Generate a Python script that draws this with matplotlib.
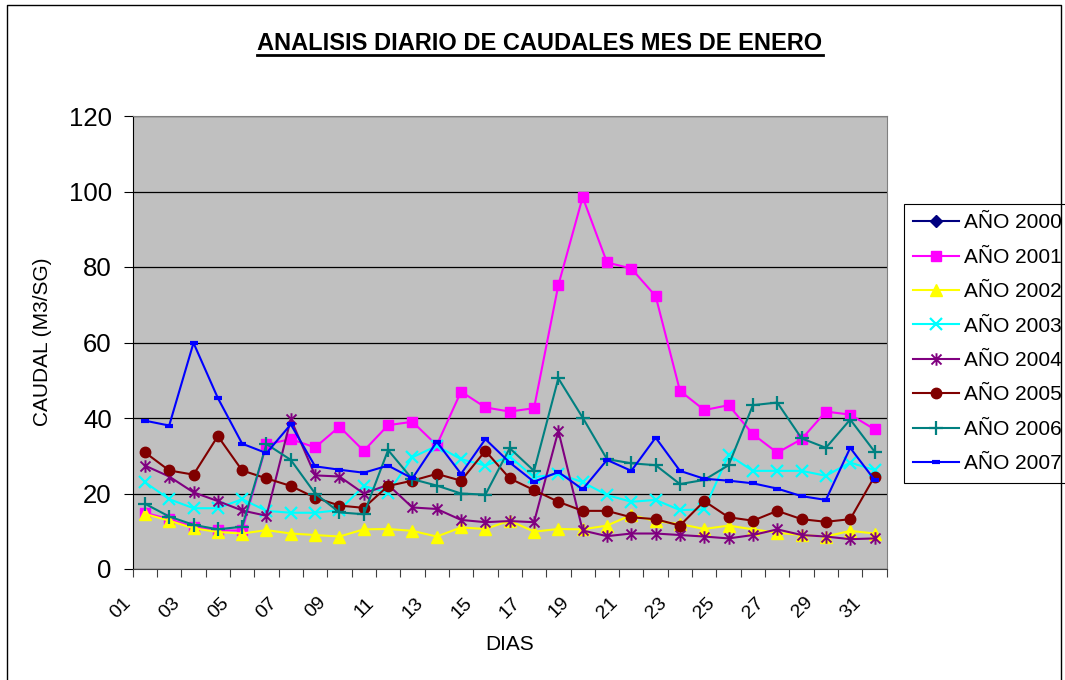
import matplotlib
matplotlib.use('Agg')
import numpy as np
import matplotlib.pyplot as plt
from matplotlib.path import Path
from matplotlib.lines import Line2D

# fuente tipo Arial
plt.rcParams['font.family'] = ['Liberation Sans', 'DejaVu Sans']

# datos (caudal m3/sg por dia de enero)
dias = list(range(1, 32))
etiquetas = ['01', '03', '05', '07', '09', '11', '13', '15', '17', '19', '21',
             '23', '25', '27', '29', '31']

anio_2000 = []
anio_2001 = [14.9, 13.2, 11.2, 10.2, 10.2, 33.0, 34.4, 32.2, 37.7, 31.3, 38.1,
             39.0, 32.8, 47.0, 42.8, 41.7, 42.6, 75.2, 98.5, 81.2, 79.6, 72.3,
             47.2, 42.1, 43.4, 35.7, 30.8, 34.4, 41.7, 40.9, 37.0]
anio_2002 = [14.6, 12.8, 10.8, 9.8, 9.4, 10.3, 9.4, 9.0, 8.6, 10.5, 10.6,
             10.1, 8.6, 11.0, 10.6, 12.8, 9.9, 10.6, 10.5, 11.5, 14.3, 12.7,
             11.9, 10.6, 11.5, 10.5, 9.6, 9.0, 8.6, 10.1, 9.4]
anio_2003 = [23.0, 18.5, 16.1, 16.1, 18.5, 15.4, 14.9, 14.9, 15.6, 22.0, 20.2,
             29.6, 32.6, 29.1, 27.4, 29.8, 24.3, 25.2, 23.0, 19.6, 17.8, 18.3,
             15.6, 15.8, 30.2, 26.0, 26.0, 26.0, 24.7, 28.2, 26.2]
anio_2004 = [27.4, 24.5, 20.3, 18.0, 15.5, 14.1, 39.7, 24.8, 24.5, 20.0, 22.3,
             16.3, 15.9, 13.0, 12.4, 12.7, 12.4, 36.6, 10.2, 8.7, 9.4, 9.4,
             9.0, 8.6, 8.1, 9.0, 10.5, 9.0, 8.6, 7.9, 8.1]
anio_2005 = [30.9, 26.1, 25.0, 35.2, 26.1, 24.0, 22.0, 18.9, 16.8, 16.2, 22.0,
             23.4, 25.2, 23.4, 31.3, 24.0, 20.9, 17.8, 15.4, 15.4, 13.7, 13.2,
             11.5, 18.0, 13.7, 12.8, 15.4, 13.2, 12.5, 13.2, 24.5]
anio_2006 = [17.3, 13.9, 11.7, 10.5, 11.2, 33.1, 28.9, 20.0, 15.0, 14.5, 31.5,
             23.8, 22.1, 20.0, 19.7, 32.0, 26.0, 50.5, 40.1, 29.1, 28.0, 27.5,
             22.5, 23.6, 27.5, 43.4, 44.1, 34.6, 32.1, 39.6, 31.1]
anio_2007 = [39.3, 38.0, 59.9, 45.3, 33.2, 30.7, 38.3, 27.2, 26.3, 25.5, 27.4,
             24.0, 33.7, 25.2, 34.4, 28.2, 23.1, 25.7, 21.1, 28.9, 26.0, 34.8,
             26.0, 23.9, 23.4, 22.7, 21.3, 19.3, 18.3, 32.1, 23.6]

# marcador asterisco estilo excel (x + linea vertical)
asterisco = Path([(0, -1), (0, 1), (-0.8, -0.8), (0.8, 0.8), (-0.8, 0.8), (0.8, -0.8)],
                 [Path.MOVETO, Path.LINETO] * 3)

series = [
    ('AÑO 2000', anio_2000, '#000080', 'D', 6, 1.0),
    ('AÑO 2001', anio_2001, '#FF00FF', 's', 7.5, 1.0),
    ('AÑO 2002', anio_2002, '#FFFF00', '^', 8.5, 1.0),
    ('AÑO 2003', anio_2003, '#00FFFF', 'x', 8, 1.6),
    ('AÑO 2004', anio_2004, '#800080', asterisco, 9, 1.4),
    ('AÑO 2005', anio_2005, '#800000', 'o', 7.5, 1.0),
    ('AÑO 2006', anio_2006, '#008080', '+', 10, 1.6),
    ('AÑO 2007', anio_2007, '#0000FF', '_', 6, 3.0),
]

fig = plt.figure(figsize=(10.65, 6.8), dpi=100)
ax = fig.add_axes([132.7 / 1065, 1 - 569 / 680, 754 / 1065, 453 / 680])
ax.set_facecolor('#C0C0C0')

for nombre, valores, color, marca, tam, mew in series:
    x = dias[:len(valores)]
    if marca in ('x', '+', '_') or marca is asterisco:
        ax.plot(x, valores, color=color, lw=1.5, marker=marca, ms=tam,
                mew=mew, mec=color, mfc='none', label=nombre)
    else:
        ax.plot(x, valores, color=color, lw=1.5, marker=marca, ms=tam,
                mew=mew, mec=color, mfc=color, label=nombre)

ax.set_ylim(0, 120)
ax.set_xlim(0.5, 31.5)
ax.set_yticks(range(0, 121, 20))
ax.yaxis.grid(True, color='black', lw=0.9)
ax.set_axisbelow(True)

# marcas entre categorias, etiquetas en el centro
ax.set_xticks(np.arange(0.5, 32, 1))
ax.set_xticklabels([])
ax.set_xticks([d - 0.41 for d in dias[::2]], minor=True)
ax.set_xticklabels(etiquetas, minor=True, rotation=45, ha='right', va='top',
                   fontsize=14)
ax.tick_params(axis='x', which='major', length=6, width=0.8, color='#404040',
               direction='out')
ax.tick_params(axis='x', which='minor', length=0, pad=18)
ax.tick_params(axis='y', labelsize=18.5, length=6.5, width=0.8, direction='out', pad=8.5)

for lado in ['top', 'right']:
    ax.spines[lado].set_color('#808080')
ax.spines['bottom'].set_color('#404040')
ax.spines['left'].set_color('black')

fig.text(43 / 1065, 1 - 342 / 680, 'CAUDAL (M3/SG)', rotation=90, ha='center',
         va='center', fontsize=15)
fig.text(509.7 / 1065, 1 - 644 / 680, 'DIAS', ha='center', va='center', fontsize=15)

titulo = fig.text(540 / 1065, 1 - 50.5 / 680, 'ANALISIS DIARIO DE CAUDALES MES DE ENERO',
                  ha='center', va='baseline', fontsize=17, fontweight='bold')

ax.legend(loc='upper left', bbox_to_anchor=(904 / 1065, 1 - 204 / 680),
          bbox_transform=fig.transFigure, borderaxespad=0, fontsize=15,
          frameon=True, fancybox=False, edgecolor='black', framealpha=1,
          handlelength=2.2, handletextpad=0.25, labelspacing=0.74,
          borderpad=0.45).get_frame().set_linewidth(0.8)

# subrayado del titulo
fig.canvas.draw()
bb = titulo.get_window_extent(fig.canvas.get_renderer())
fig.add_artist(Line2D([bb.x0 / 1065, bb.x1 / 1065], [1 - 55 / 680, 1 - 55 / 680],
                      transform=fig.transFigure, color='black', lw=2))

# borde del grafico
fig.add_artist(Line2D([7 / 1065, 7 / 1065, 1061 / 1065, 1061 / 1065],
                      [0, 1 - 5 / 680, 1 - 5 / 680, 0],
                      transform=fig.transFigure, color='black', lw=1))

fig.savefig('out.png', dpi=100)
